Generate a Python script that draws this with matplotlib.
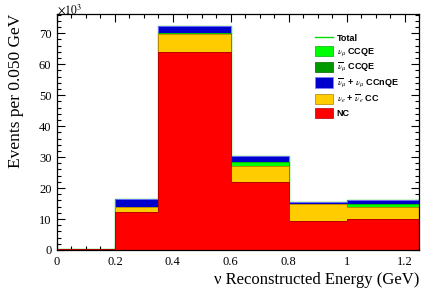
import matplotlib
matplotlib.use("Agg")
import matplotlib.pyplot as plt
import numpy as np
from matplotlib.lines import Line2D
from matplotlib.patches import Patch
from matplotlib.ticker import MultipleLocator

# bin edges in GeV, values in units of 10^3 events
edges = [0.0, 0.2, 0.35, 0.6, 0.8, 1.0, 1.25]
nc = [0.15, 12.4, 63.8, 21.8, 9.35, 9.9]
nue_cc = [0.0, 1.6, 6.1, 5.4, 5.45, 4.1]
numubar_ccqe = [0.0, 0.0, 0.0, 0.0, 0.0, 0.0]
numu_ccqe = [0.0, 0.0, 0.1, 1.3, 0.0, 0.8]
ccnqe = [0.0, 2.5, 2.5, 1.8, 0.6, 1.2]

labels = ["NC", r"$\nu_e$ + $\overline{\nu}_e$ CC", r"$\overline{\nu}_\mu$ CCQE",
          r"$\nu_\mu$ CCQE", r"$\overline{\nu}_\mu$ + $\nu_\mu$ CCnQE"]
colors = ["#ff0000", "#ffcc00", "#009900", "#00ff00", "#0000cc"]
edgecols = ["#b00000", "#b08000", "#006600", "#00b000", "#8080ff"]

plt.rcParams['mathtext.fontset'] = 'stix'

fig = plt.figure(figsize=(4.42, 2.99), dpi=100)
ax = fig.add_axes([0.129, 0.164, 0.819, 0.789])

comps = [nc, nue_cc, numubar_ccqe, numu_ccqe, ccnqe]
cum = np.cumsum(np.array(comps), axis=0)
total = cum[-1]

ax.stairs(total, edges, color="#00dd00", lw=1.0, zorder=1)
# draw largest first like a ROOT THStack
for i in range(len(comps) - 1, -1, -1):
    ax.stairs(cum[i], edges, baseline=0, fill=True, color=colors[i], zorder=2)
    ax.stairs(cum[i], edges, baseline=0, fill=False, color=edgecols[i], lw=0.6, zorder=2)

ax.set_xlim(0, 1.25)
ax.set_ylim(0, 76.2)
ax.xaxis.set_major_locator(MultipleLocator(0.2))
ax.xaxis.set_minor_locator(MultipleLocator(0.05))
ax.yaxis.set_major_locator(MultipleLocator(10))
ax.yaxis.set_minor_locator(MultipleLocator(2))
ax.tick_params(which='both', direction='in', top=True, right=True, labelsize=9,
               width=0.8)
ax.tick_params(which='major', length=6, pad=4)
ax.tick_params(which='minor', length=3)
ax.set_xticks([0, 0.2, 0.4, 0.6, 0.8, 1.0, 1.2])
ax.set_xticklabels(["0", "0.2", "0.4", "0.6", "0.8", "1", "1.2"])
for lab in ax.get_xticklabels() + ax.get_yticklabels():
    lab.set_family("Liberation Serif")
for s in ax.spines.values():
    s.set_linewidth(0.9)

ax.set_xlabel("ν Reconstructed Energy (GeV)", family="Liberation Serif", fontsize=12,
              loc='right', labelpad=3)
ax.set_ylabel("Events per 0.050 GeV", family="Liberation Serif", fontsize=12.5,
              loc='top', labelpad=11)
ax.text(0.0, 0.99, r"$\times10^{3}$", transform=ax.transAxes, fontsize=8.5,
        ha='left', va='bottom')

handles = [Line2D([0], [0], color="#00dd00", lw=1.0)]
leg_labels = ["Total"]
for i in [3, 2, 4, 1, 0]:
    handles.append(Patch(facecolor=colors[i], edgecolor=edgecols[i], lw=0.5))
    leg_labels.append(labels[i])
leg = ax.legend(handles, leg_labels, loc='upper left', bbox_to_anchor=(0.69, 0.955),
                frameon=False, prop={'family': 'Liberation Sans', 'weight': 'bold', 'size': 6.5},
                handlelength=2.0, handleheight=1.4, labelspacing=0.3, handletextpad=0.4)

fig.savefig("out.png", dpi=100)
